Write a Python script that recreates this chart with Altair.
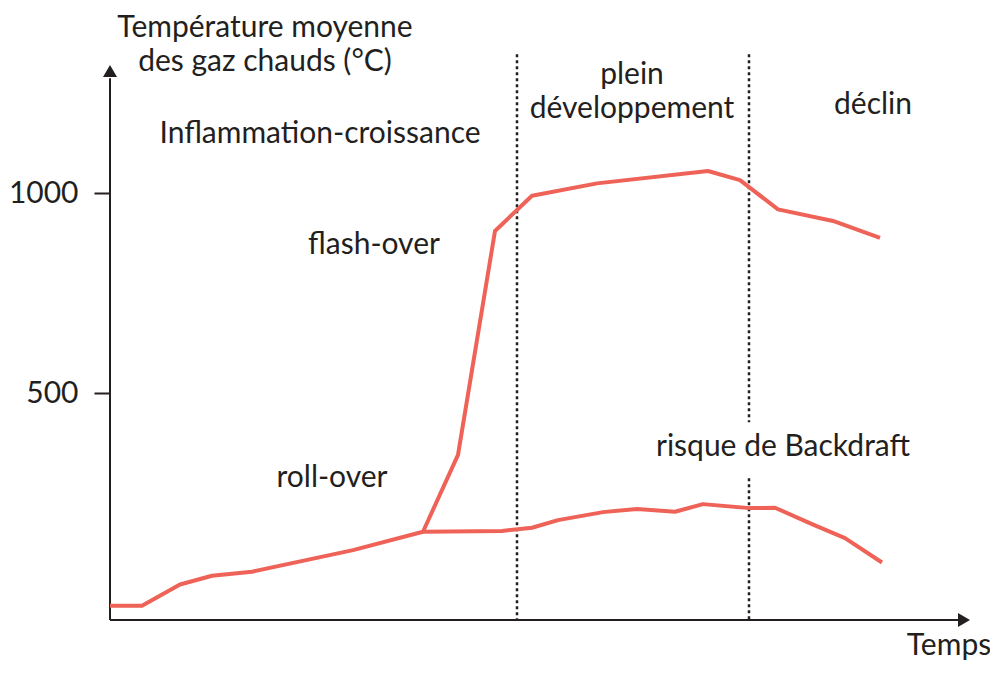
"""
Courbe de température moyenne des gaz chauds au cours d'un incendie :
inflammation, flash-over / roll-over, plein développement, déclin.
"""
import altair as alt
import pandas as pd

# ==================== données ====================
# temps en unités arbitraires, température en °C
common_t = [0, 3.2, 7.0, 10.2, 14.2, 24.3, 31.3]
common_temp = [-31, -31, 22, 44, 54, 108, 154]

# branche flash-over (part de la bifurcation)
flash_t = [31.3, 34.8, 38.5, 42.2, 48.7, 59.8, 63.0, 66.8, 72.3, 77.0]
flash_temp = [154, 346, 906, 994, 1025, 1056, 1033, 960, 931, 889]

# branche roll-over / risque de backdraft
roll_t = [31.3, 39.2, 42.2, 44.8, 49.3, 52.7, 56.5, 59.3, 64.0, 66.5, 70.2, 73.5, 77.2]
roll_temp = [154, 156, 164, 183, 203, 211, 204, 223, 213, 214, 173, 138, 77]

# séparations des phases (lignes pointillées)
phase_t = [40.7, 63.9, 63.9]
phase_top = [1348, 1348, 288]
phase_bottom = [-67, 428, -67]

y_ticks = [500, 1000]

# pour les textes sur deux lignes, la position est celle de la première ligne
label_texts = [
    "Température moyenne\ndes gaz chauds (°C)", "Inflammation-croissance",
    "flash-over", "plein\ndéveloppement", "déclin",
    "risque de Backdraft", "roll-over", "Temps",
]
label_t = [15.5, 21.0, 26.4, 52.2, 76.3, 67.3, 22.2, 83.9]
label_temp = [1414, 1148, 871, 1296, 1221, 366, 288, -132]

# ==================== constantes ====================
X_MAX = 86
Y_MIN, Y_MAX = -66.75, 1321
RED = "#EF6257"
INK = "#231F20"
FONT = "Lato"
FONT_SIZE = 30

x_scale = alt.Scale(domain=[0, X_MAX], nice=False, zero=False)
y_scale = alt.Scale(domain=[Y_MIN, Y_MAX], nice=False, zero=False)
y_axis = alt.Axis(
    values=y_ticks, format="d", title=None, grid=False, domain=False,
    tickSize=16, tickWidth=2, tickColor=INK,
    labelPadding=16, labelFont=FONT, labelFontSize=FONT_SIZE, labelColor=INK,
)


def X(field="t"):
    return alt.X(f"{field}:Q", scale=x_scale, axis=None)


def Y(field="temp"):
    return alt.Y(f"{field}:Q", scale=y_scale, axis=y_axis)


# ==================== tables ====================
rows = []
for name, ts, temps in [
    ("commun", common_t, common_temp),
    ("flash", flash_t, flash_temp),
    ("roll", roll_t, roll_temp),
]:
    for i, (t, temp) in enumerate(zip(ts, temps)):
        rows.append({"branche": name, "i": i, "t": t, "temp": temp})
df_curve = pd.DataFrame(rows)

df_phase = pd.DataFrame({"t": phase_t, "top": phase_top, "bottom": phase_bottom})
df_labels = pd.DataFrame({"label": label_texts, "t": label_t, "temp": label_temp})

# axes dessinés à la main pour avoir les flèches
df_axes = pd.DataFrame({
    "t": [0, 0], "t2": [0, 84.8],
    "temp": [Y_MIN, Y_MIN], "temp2": [1288, Y_MIN],
})
df_arrows = pd.DataFrame({
    "t": [0, 85.4], "temp": [1306, Y_MIN],
    "shape": ["M-1,0.857L0,-0.857L1,0.857Z", "M-0.857,-1L0.857,0L-0.857,1Z"],
})

# ==================== couches ====================
curve = alt.Chart(df_curve).mark_line(
    color=RED, strokeWidth=4, strokeJoin="round"
).encode(x=X(), y=Y(), detail="branche:N", order="i:Q")

phases = alt.Chart(df_phase).mark_rule(
    color=INK, strokeWidth=2.5, strokeDash=[3, 3]
).encode(x=X(), y=Y("top"), y2="bottom:Q")

axes = alt.Chart(df_axes).mark_rule(color=INK, strokeWidth=2).encode(
    x=X(), x2="t2:Q", y=Y(), y2="temp2:Q"
)

arrows = alt.Chart(df_arrows).mark_point(
    filled=True, color=INK, opacity=1, size=196
).encode(x=X(), y=Y(), shape=alt.Shape("shape:N", scale=None))

labels = alt.Chart(df_labels).mark_text(
    font=FONT, fontSize=FONT_SIZE, color=INK, align="center",
    baseline="middle", lineBreak="\n", lineHeight=34,
).encode(x=X(), y=Y(), text="label:N")

chart = alt.layer(phases, axes, arrows, curve, labels).properties(
    width=860,
    height=555,
    padding={"left": 102, "top": 57, "right": 20, "bottom": 46},
    autosize=alt.AutoSizeParams(type="none"),
).configure_view(stroke=None)

chart.save("out.html", embed_options={"renderer": "svg", "actions": False})
